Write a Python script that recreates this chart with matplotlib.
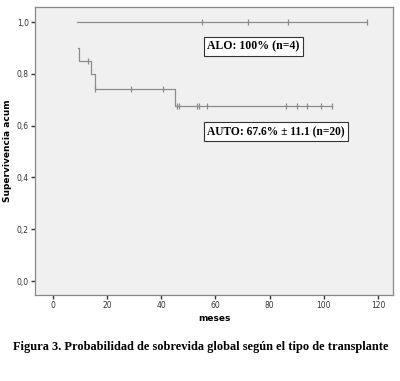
import numpy as np
import matplotlib.pyplot as plt

# Curvas de supervivencia (Kaplan-Meier)
alo_t = [8.9, 116.0]
alo_s = [1.0, 1.0]
alo_cens = [54.9, 72.0, 86.8, 116.0]

auto_t = [9.3, 9.7, 13.9, 15.7, 44.9, 103.0]
auto_s = [0.9, 0.851, 0.798, 0.742, 0.676, 0.676]
auto_cens = [12.9, 15.7, 28.8, 40.8, 45.9, 46.6, 53.0, 53.8, 57.0,
             86.0, 89.9, 93.8, 98.9, 103.0]

x_ticks = [0, 20, 40, 60, 80, 100, 120]
y_ticks = [0.0, 0.2, 0.4, 0.6, 0.8, 1.0]
y_labels = ['0,0', '0,2', '0,4', '0,6', '0,8', '1,0']

label_alo = 'ALO: 100% (n=4)'
label_auto = 'AUTO: 67.6% ± 11.1 (n=20)'
caption = 'Figura 3. Probabilidad de sobrevida global según el tipo de transplante'


def step_value(times, surv, t):
    idx = np.searchsorted(times, t, side='right') - 1
    return np.array(surv)[np.clip(idx, 0, len(surv) - 1)]


fig = plt.figure(figsize=(4.0, 3.81), dpi=100)
ax = fig.add_axes([0.0875, 0.2257, 0.895, 0.7559])
ax.set_facecolor('#f0f0f0')

line_color = '#8c8c8c'
ax.step(alo_t, alo_s, where='post', color=line_color, lw=0.9)
ax.plot(alo_cens, step_value(alo_t, alo_s, alo_cens), ls='none',
        marker='|', ms=4, mew=0.9, color=line_color)
ax.step(auto_t, auto_s, where='post', color=line_color, lw=0.9)
ax.plot(auto_cens, step_value(auto_t, auto_s, auto_cens), ls='none',
        marker='|', ms=4, mew=0.9, color=line_color)

ax.set_xlim(-6.6, 125.5)
ax.set_ylim(-0.054, 1.058)
ax.set_xticks(x_ticks)
ax.set_yticks(y_ticks)
ax.set_yticklabels(y_labels)
ax.tick_params(labelsize=5.5, length=3, width=1, color='#333333',
               labelcolor='#333333', pad=1.5)

for s in ax.spines.values():
    s.set_color('#888888')
    s.set_linewidth(0.9)

ax.set_xlabel('meses', fontsize=6.5, fontweight='bold', labelpad=3)
ax.set_ylabel('Supervivencia acum', fontsize=6.5, fontweight='bold', labelpad=3)

box = dict(boxstyle='square,pad=0.3', facecolor='white', edgecolor='#333333', lw=0.8)
ax.text(74.0, 0.905, label_alo, family='Liberation Serif', fontsize=8.5,
        fontweight='bold', ha='center', va='center', bbox=box)
ax.text(82.3, 0.576, label_auto, family='Liberation Serif', fontsize=8.3,
        fontweight='bold', ha='center', va='center', bbox=box)

fig.text(0.503, 0.0895, caption, family='Liberation Serif', fontsize=8.9,
         fontweight='bold', ha='center', va='center')

fig.savefig('out.png', dpi=100, facecolor='white')
